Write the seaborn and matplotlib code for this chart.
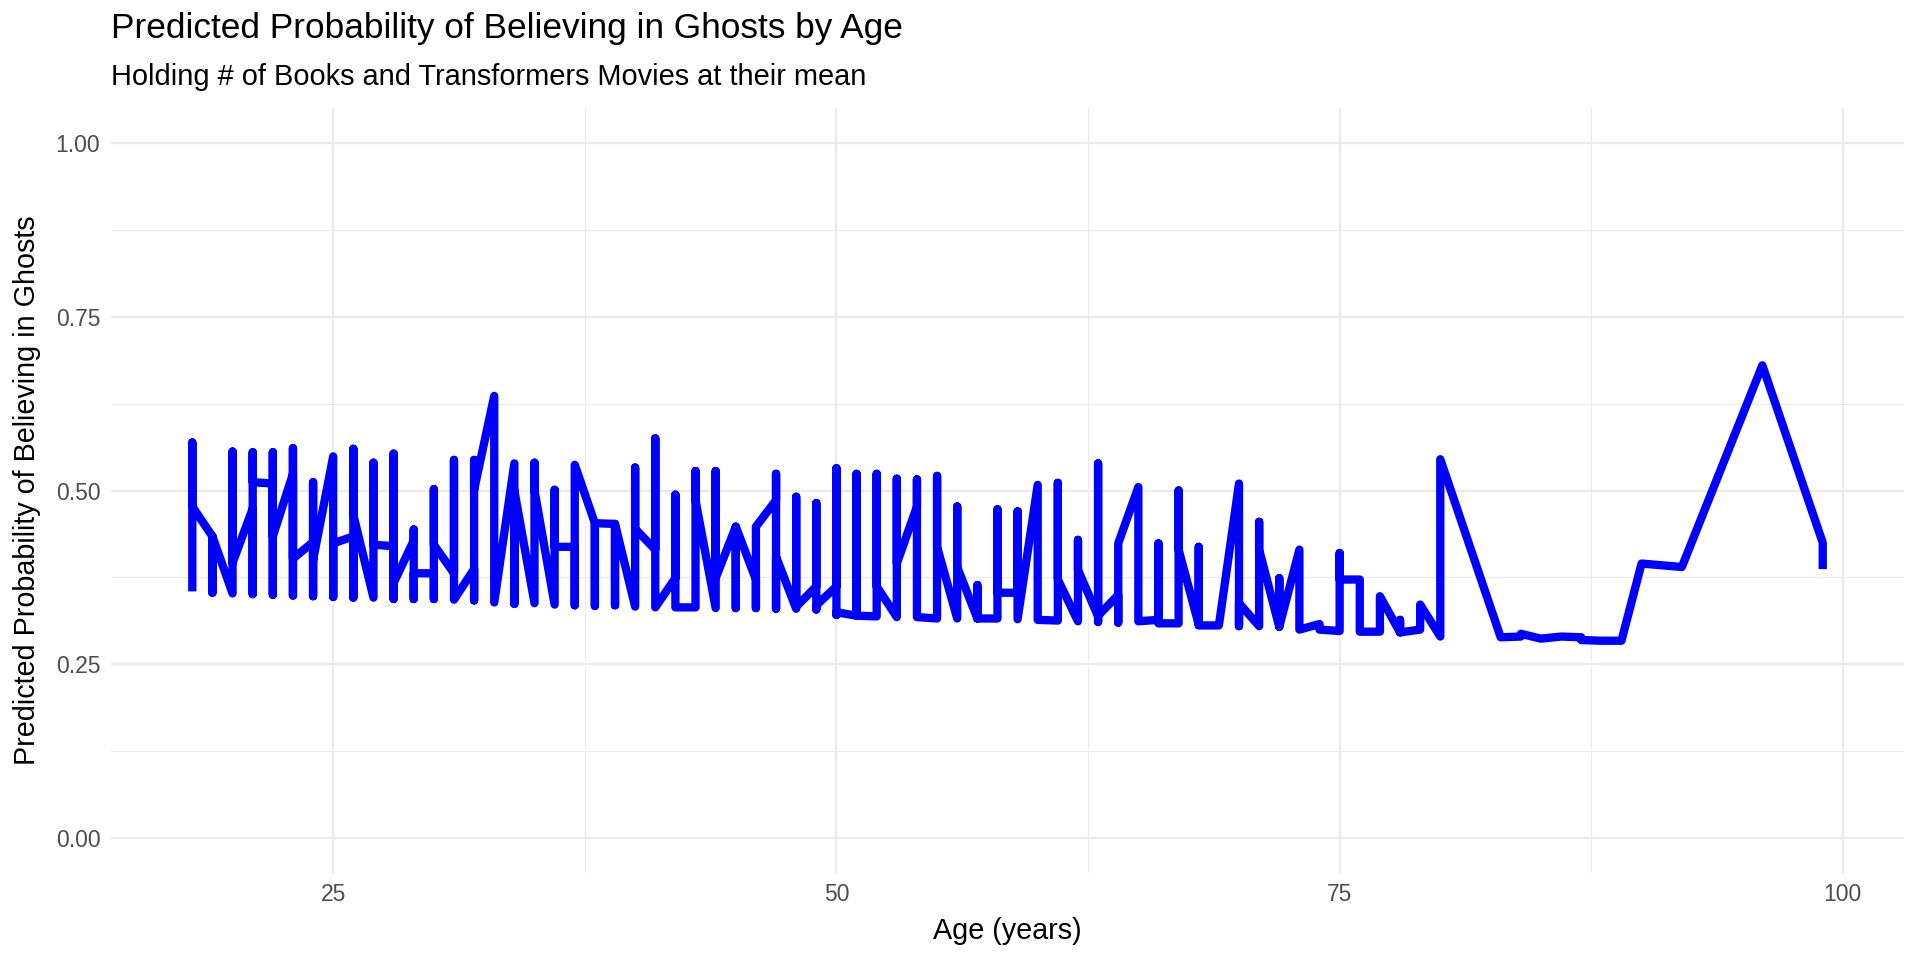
import matplotlib
matplotlib.use("Agg")
import matplotlib.pyplot as plt
import seaborn as sns
import pandas as pd
from matplotlib.ticker import FixedLocator

# ---- data: predicted probability at each age, in path order ----
ages = [18, 19, 20, 21, 22, 23, 24, 25, 26, 27, 28, 29, 30, 31, 32, 33, 34, 35,
        36, 37, 38, 39, 40, 41, 42, 43, 44, 45, 46, 47, 48, 49, 50, 51, 52, 53,
        54, 55, 56, 57, 58, 59, 60, 61, 62, 63, 64, 65, 66, 67, 68, 69, 70, 71,
        72, 73, 74, 75, 76, 77, 78, 79, 80, 83, 84, 85, 86, 87, 88, 89, 90, 92,
        96, 99]
prob_runs = [
    [0.355, 0.569, 0.477], [0.434, 0.353, 0.434], [0.352, 0.556, 0.396],
    [0.474, 0.351, 0.555, 0.512], [0.510, 0.350, 0.555, 0.434],
    [0.524, 0.349, 0.561, 0.402], [0.426, 0.348, 0.512, 0.400],
    [0.549, 0.347, 0.424], [0.434, 0.346, 0.560, 0.465], [0.346, 0.540, 0.422],
    [0.420, 0.344, 0.553, 0.367], [0.428, 0.444, 0.344, 0.381],
    [0.381, 0.344, 0.502, 0.422], [0.381, 0.544, 0.343],
    [0.387, 0.342, 0.544, 0.501], [0.636, 0.339], [0.539, 0.337, 0.500],
    [0.338, 0.540, 0.500], [0.336, 0.501, 0.419], [0.419, 0.335, 0.537],
    [0.453, 0.334, 0.453], [0.452, 0.335, 0.452], [0.333, 0.533, 0.445],
    [0.415, 0.575, 0.332], [0.374, 0.494, 0.332], [0.332, 0.528, 0.486],
    [0.331, 0.528, 0.374], [0.448, 0.331, 0.448], [0.372, 0.331, 0.448],
    [0.486, 0.524, 0.330, 0.405], [0.330, 0.491, 0.333],
    [0.362, 0.482, 0.329, 0.335], [0.362, 0.532, 0.321, 0.325],
    [0.320, 0.524, 0.320], [0.319, 0.524, 0.362], [0.318, 0.517, 0.395],
    [0.477, 0.516, 0.318], [0.316, 0.521, 0.419], [0.316, 0.477, 0.390],
    [0.316, 0.364, 0.316], [0.316, 0.473, 0.353], [0.353, 0.470, 0.315],
    [0.508, 0.314], [0.313, 0.511, 0.372], [0.312, 0.429, 0.386],
    [0.319, 0.539, 0.311, 0.320], [0.350, 0.310, 0.424], [0.505, 0.312],
    [0.314, 0.424, 0.309], [0.309, 0.500, 0.415], [0.307, 0.419, 0.306],
    [0.306], [0.510, 0.305, 0.338], [0.305, 0.455, 0.415],
    [0.304, 0.374, 0.304], [0.415, 0.300, 0.300], [0.308, 0.300],
    [0.298, 0.410, 0.372], [0.372, 0.297], [0.297, 0.348],
    [0.296, 0.314, 0.296], [0.300, 0.336], [0.290, 0.545], [0.289],
    [0.290, 0.294], [0.287], [0.290], [0.289, 0.285], [0.284], [0.284],
    [0.395], [0.390], [0.680], [0.425, 0.387],
]

x_ticks = [25, 50, 75, 100]
x_minor = [37.5, 62.5, 87.5]
y_ticks = [0.0, 0.25, 0.5, 0.75, 1.0]
y_tick_labels = ["0.00", "0.25", "0.50", "0.75", "1.00"]
y_minor = [0.125, 0.375, 0.625, 0.875]

title = "Predicted Probability of Believing in Ghosts by Age"
subtitle = "Holding # of Books and Transformers Movies at their mean"
x_label = "Age (years)"
y_label = "Predicted Probability of Believing in Ghosts"

rows_age, rows_prob = [], []
for a, run in zip(ages, prob_runs):
    for p in run:
        rows_age.append(a)
        rows_prob.append(p)
df = pd.DataFrame({"age": rows_age, "prob": rows_prob})

sns.set_theme(style="white")
plt.rcParams["font.family"] = ["Liberation Sans", "DejaVu Sans"]

fig = plt.figure(figsize=(12.8, 6.4), dpi=150)
left, right, bottom, top = 0.0577, 0.9918, 0.0906, 0.8875
ax = fig.add_axes([left, bottom, right - left, top - bottom])

grid_col = "#EBEBEB"
ax.set_facecolor("white")
for s in ax.spines.values():
    s.set_visible(False)

sns.lineplot(data=df, x="age", y="prob", sort=False, estimator=None,
             color="#0000FF", linewidth=4.0, ax=ax, zorder=3)
for line in ax.get_lines():
    line.set_solid_capstyle("butt")
    line.set_solid_joinstyle("round")

xmin, xmax = min(ages), max(ages)
span = xmax - xmin
ax.set_xlim(xmin - 0.05 * span, xmax + 0.05 * span)
ax.set_ylim(-0.05, 1.05)

ax.xaxis.set_major_locator(FixedLocator(x_ticks))
ax.xaxis.set_minor_locator(FixedLocator(x_minor))
ax.yaxis.set_major_locator(FixedLocator(y_ticks))
ax.yaxis.set_minor_locator(FixedLocator(y_minor))
ax.set_yticklabels(y_tick_labels)

ax.grid(which="major", color=grid_col, linewidth=1.1, zorder=0)
ax.grid(which="minor", color=grid_col, linewidth=0.55, zorder=0)
ax.set_axisbelow(True)

ax.tick_params(axis="both", which="both", length=0, labelsize=11,
               labelcolor="#4D4D4D", pad=5)
ax.set_xlabel(x_label, fontsize=13.8, color="black", labelpad=5)
ax.set_ylabel(y_label, fontsize=13.8, color="black", labelpad=7)

fig.text(left, 0.970, title, fontsize=16.9, color="black", ha="left", va="center")
fig.text(left, 0.920, subtitle, fontsize=13.9, color="black", ha="left", va="center")

fig.savefig("out.png", dpi=150, facecolor="white")
